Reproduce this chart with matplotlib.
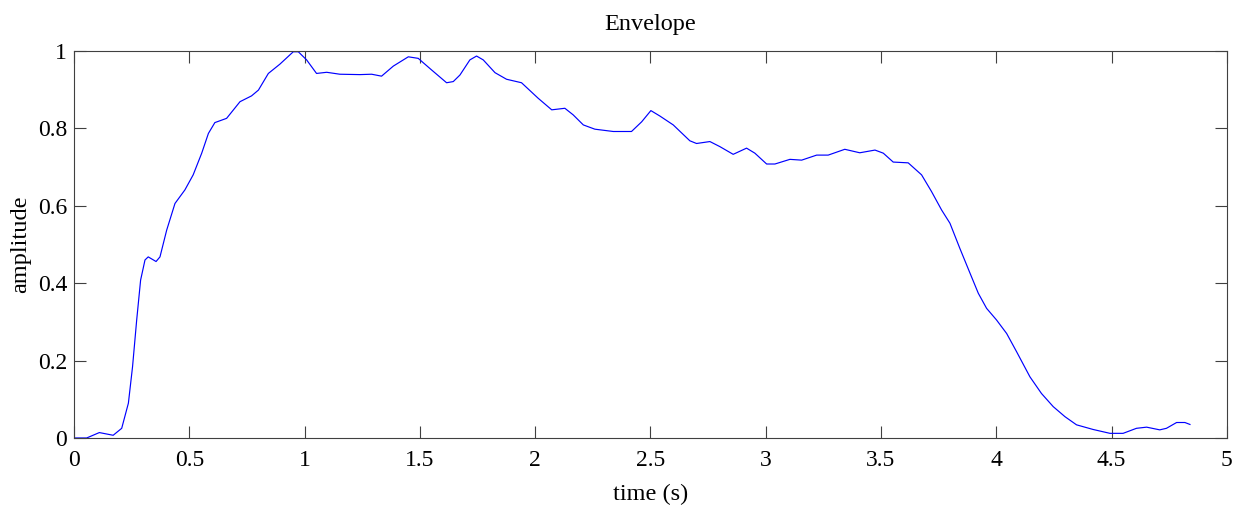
import matplotlib
matplotlib.use("Agg")
import matplotlib.pyplot as plt

# Envelope values
time_s = [0.0, 0.055, 0.11, 0.17, 0.207, 0.236, 0.254, 0.272, 0.289, 0.308,
          0.322, 0.356, 0.373, 0.402, 0.438, 0.481, 0.517, 0.554, 0.583, 0.611,
          0.662, 0.72, 0.77, 0.80, 0.843, 0.893, 0.951, 0.973, 1.009, 1.052,
          1.096, 1.153, 1.24, 1.291, 1.334, 1.385, 1.45, 1.493, 1.551, 1.616,
          1.645, 1.674, 1.717, 1.746, 1.775, 1.826, 1.876, 1.941, 2.013, 2.072,
          2.129, 2.165, 2.209, 2.259, 2.339, 2.418, 2.462, 2.502, 2.541, 2.599,
          2.671, 2.70, 2.758, 2.801, 2.859, 2.917, 2.953, 3.004, 3.04, 3.105,
          3.156, 3.221, 3.271, 3.343, 3.408, 3.474, 3.51, 3.553, 3.618, 3.676,
          3.719, 3.763, 3.799, 3.842, 3.886, 3.922, 3.958, 4.001, 4.045, 4.088,
          4.146, 4.196, 4.247, 4.298, 4.348, 4.42, 4.493, 4.55, 4.608, 4.652,
          4.709, 4.738, 4.782, 4.818, 4.84]
amplitude = [0.0, 0.0, 0.014, 0.007, 0.025, 0.09, 0.184, 0.305, 0.408, 0.46,
             0.468, 0.456, 0.468, 0.537, 0.606, 0.641, 0.68, 0.736, 0.787, 0.815,
             0.826, 0.869, 0.884, 0.899, 0.942, 0.966, 0.998, 0.998, 0.977, 0.942,
             0.945, 0.94, 0.939, 0.94, 0.935, 0.961, 0.985, 0.981, 0.951, 0.918,
             0.921, 0.938, 0.977, 0.987, 0.977, 0.944, 0.927, 0.918, 0.878, 0.848,
             0.852, 0.835, 0.809, 0.798, 0.792, 0.792, 0.817, 0.846, 0.832, 0.809,
             0.768, 0.761, 0.766, 0.753, 0.733, 0.749, 0.736, 0.708, 0.708, 0.72,
             0.718, 0.731, 0.731, 0.746, 0.737, 0.744, 0.736, 0.713, 0.711, 0.68,
             0.637, 0.589, 0.555, 0.49, 0.426, 0.374, 0.335, 0.305, 0.27, 0.223,
             0.158, 0.115, 0.081, 0.055, 0.034, 0.022, 0.012, 0.012, 0.025, 0.028,
             0.021, 0.025, 0.04, 0.04, 0.035]

x_ticks = [0, 0.5, 1, 1.5, 2, 2.5, 3, 3.5, 4, 4.5, 5]
x_tick_labels = ["0", "0.5", "1", "1.5", "2", "2.5", "3", "3.5", "4", "4.5", "5"]
y_ticks = [0, 0.2, 0.4, 0.6, 0.8, 1]
y_tick_labels = ["0", "0.2", "0.4", "0.6", "0.8", "1"]

plt.rcParams["font.family"] = ["Liberation Serif", "DejaVu Serif"]

fig = plt.figure(figsize=(12.37, 5.05), dpi=100)
ax = fig.add_axes([0.0598, 0.1327, 0.932, 0.7663])

ax.plot(time_s, amplitude, color="#0000ff", linewidth=0.85)

ax.set_xlim(0, 5)
ax.set_ylim(0, 1)
ax.set_xticks(x_ticks)
ax.set_xticklabels(x_tick_labels)
ax.set_yticks(y_ticks)
ax.set_yticklabels(y_tick_labels)

ax.tick_params(direction="in", length=8.5, width=0.8, color="#404040",
               top=True, right=True, labelsize=17)
ax.tick_params(axis="x", pad=9)
ax.tick_params(axis="y", pad=5)
for spine in ax.spines.values():
    spine.set_color("#404040")
    spine.set_linewidth(0.8)

ax.set_title("Envelope", fontsize=17.5, pad=15)
ax.set_xlabel("time (s)", fontsize=17.5, labelpad=9)
ax.set_ylabel("amplitude", fontsize=17.5, labelpad=5)

fig.savefig("out.png", dpi=100)
